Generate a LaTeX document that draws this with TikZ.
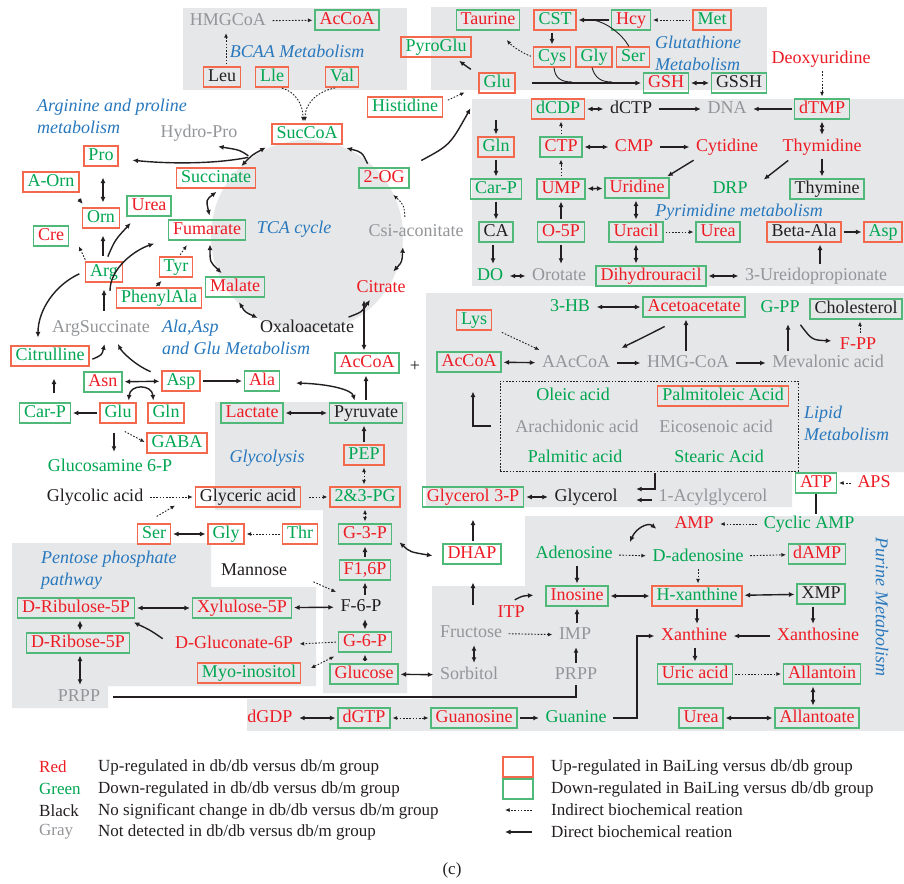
\documentclass[tikz,border=0pt]{standalone}
\usepackage{fontspec}
\setmainfont{Liberation Serif}
\usetikzlibrary{arrows.meta}
\definecolor{txtred}{RGB}{237,28,36}
\definecolor{txtgreen}{RGB}{0,166,81}
\definecolor{txtgray}{RGB}{147,149,152}
\definecolor{txtblack}{RGB}{35,31,32}
\definecolor{txtblue}{RGB}{40,120,190}
\definecolor{boxred}{RGB}{242,105,78}
\definecolor{boxgreen}{RGB}{80,184,120}
\definecolor{bggray}{RGB}{230,231,232}
\begin{document}
\begin{tikzpicture}[x=1pt,y=-1pt,
  lab/.style={font=\fontsize{18}{20}\selectfont, inner xsep=4.5pt, inner ysep=1.75pt, text height=12.5pt, text depth=4pt},
  bR/.style={draw=boxred, line width=1.1pt},
  bG/.style={draw=boxgreen, line width=1.1pt},
  tR/.style={lab, text=txtred},
  tG/.style={lab, text=txtgreen},
  tK/.style={lab, text=txtblack},
  tY/.style={lab, text=txtgray},
  ttl/.style={font=\fontsize{18}{22}\selectfont\itshape, text=txtblue, align=left, inner sep=0pt},
  leg/.style={font=\fontsize{17}{20}\selectfont, anchor=west, inner sep=0pt},
  da/.style={draw=txtblack, line width=1.4pt, -{Latex[length=5.5pt,width=5pt]}, shorten >=2pt, shorten <=2pt},
  db/.style={draw=txtblack, line width=1.4pt, {Latex[length=5.5pt,width=5pt]}-{Latex[length=5.5pt,width=5pt]}, shorten >=2pt, shorten <=2pt},
  ia/.style={draw=txtblack, line width=0.9pt, dash pattern=on 1.6pt off 1.6pt, -{Latex[length=4.5pt,width=4pt]}, shorten >=2pt, shorten <=2pt},
  ib/.style={ia, {Latex[length=4.5pt,width=4pt]}-{Latex[length=4.5pt,width=4pt]}},
  thinl/.style={draw=txtblack, line width=0.9pt}
]
\useasboundingbox (0,0) rectangle (904,883);
\fill[white] (0,0) rectangle (904,883);
% ---------------- background regions
\fill[bggray] (183,8) rectangle (407,90);
\fill[bggray] (431,7) rectangle (767,90);
\fill[bggray] (472,99) rectangle (904,286);
\fill[bggray] (426,293) -- (904,293) -- (904,472) -- (792,472) -- (792,507) -- (426,507) -- cycle;
\fill[bggray] (215,402) -- (407,402) -- (407,693) -- (323,693) -- (323,510) -- (215,510) -- cycle;
\fill[bggray] (12,543) -- (211,543) -- (211,587) -- (316,587) -- (316,686) -- (108,686) -- (108,708) -- (12,708) -- cycle;
\fill[bggray] (432,586) rectangle (525,731);
\fill[bggray] (247,699) rectangle (432,731);
\fill[bggray] (525,516) rectangle (904,731);
\fill[bggray] (307,236) circle[radius=96pt];

% ---------------- titles
\node[ttl] (tBCAA) at (297,51) {BCAA Metabolism};
\node[ttl, anchor=west] (tGlut) at (655,53) {Glutathione\\Metabolism};
\node[ttl] (tPyr) at (739,212) {Pyrimidine metabolism};
\node[ttl, anchor=west] (tArg) at (37,116) {Arginine and proline\\metabolism};
\node[ttl] (tTCA) at (294,229) {TCA cycle};
\node[ttl, anchor=west] (tAla) at (162,337) {Ala,Asp\\and Glu Metabolism};
\node[ttl] (tGlyc) at (267,458) {Glycolysis};
\node[ttl, anchor=west] (tPPP) at (41,570) {Pentose phosphate\\pathway};
\node[ttl, anchor=west] (tLip) at (804,423) {Lipid\\Metabolism};
\node[ttl, rotate=-90] (tPur) at (882,607) {Purine Metabolism};

% ---------------- BCAA
\node[tY] (HMGCoA) at (228,21) {HMGCoA};
\node[tR,bG] (AcCoAt) at (347,20) {AcCoA};
\node[tK,bR] (Leu) at (222,77) {Leu};
\node[tG,bR] (Lle) at (272,77) {Lle};
\node[tG,bR] (Val) at (342,77) {Val};

% ---------------- Glutathione
\node[tR,bG] (Taurine) at (488,20) {Taurine};
\node[tG,bR] (CST) at (555,20) {CST};
\node[tR,bG] (Hcy) at (631,20) {Hcy};
\node[tG,bR] (Met) at (712,20) {Met};
\node[tG,bR] (PyroGlu) at (436,47) {PyroGlu};
\node[tG,bR] (Cys) at (552,57) {Cys};
\node[tG,bR] (Glyg) at (594,57) {Gly};
\node[tG,bR] (Serg) at (633,57) {Ser};
\node[tG,bR] (Glug) at (497,83) {Glu};
\node[tR,bG] (GSH) at (666,83) {GSH};
\node[tK,bG] (GSSH) at (739,83) {GSSH};
\node[tR] (Deoxyuridine) at (821,59) {Deoxyuridine};

% ---------------- Pyrimidine
\node[tG,bR] (dCDP) at (558,109) {dCDP};
\node[tK] (dCTP) at (631,109) {dCTP};
\node[tY] (DNA) at (727,109) {DNA};
\node[tR,bG] (dTMP) at (822,109) {dTMP};
\node[tG,bR] (Gln2) at (496,147) {Gln};
\node[tR,bG] (CTP) at (561,147) {CTP};
\node[tR] (CMP) at (634,147) {CMP};
\node[tR] (Cytidine) at (727,147) {Cytidine};
\node[tR] (Thymidine) at (822,147) {Thymidine};
\node[tG,bG] (CarP2) at (496,189) {Car-P};
\node[tR,bG] (UMP) at (561,189) {UMP};
\node[tR,bG] (Uridine) at (637,188) {Uridine};
\node[tG] (DRP) at (730,189) {DRP};
\node[tK,bG] (Thymine) at (827,189) {Thymine};
\node[tK,bG] (CA) at (496,232) {CA};
\node[tR,bG] (O5P) at (561,232) {O-5P};
\node[tR,bG] (Uracil) at (636,232) {Uracil};
\node[tR,bG] (Urea2) at (718,232) {Urea};
\node[tK,bR] (BetaAla) at (804,232) {Beta-Ala};
\node[tG,bR] (Asp2) at (883,232) {Asp};
\node[tG] (DO) at (490,276) {DO};
\node[tY] (Orotate) at (559,276) {Orotate};
\node[tR,bG] (Dihydrouracil) at (651,276) {Dihydrouracil};
\node[tY] (Ureido) at (816,276) {3-Ureidopropionate};

% ---------------- TCA and amino acids
\node[tY] (HydroPro) at (199,133) {Hydro-Pro};
\node[tG,bR] (SucCoA) at (307,134) {SucCoA};
\node[tG,bR] (Pro) at (101,156) {Pro};
\node[tG,bR] (Succinate) at (216,178) {Succinate};
\node[tR,bG] (TwoOG) at (384,178) {2-OG};
\node[tG,bR] (AOrn) at (51,182) {A-Orn};
\node[tG,bR] (Histidine) at (405,107) {Histidine};
\node[tR,bG] (Urea1) at (149,206) {Urea};
\node[tG,bR] (Orn) at (101,218) {Orn};
\node[tR,bG] (Fumarate) at (207,230) {Fumarate};
\node[tY] (Csi) at (416,232) {Csi-aconitate};
\node[tR,bG] (Cre) at (51,236) {Cre};
\node[tG,bR] (Tyr) at (176,267) {Tyr};
\node[tG,bR] (Arg) at (104,272) {Arg};
\node[tR,bG] (Malate) at (235,287) {Malate};
\node[tR] (Citrate) at (381,288) {Citrate};
\node[tG,bR] (PhenylAla) at (159,298) {PhenylAla};
\node[tY] (ArgSucc) at (101,328) {ArgSuccinate};
\node[tK] (Oxalo) at (307,328) {Oxaloacetate};
\node[tG,bR] (Citrulline) at (50,356) {Citrulline};
\node[tR,bG] (AcCoAm) at (367,363) {AcCoA};
\node[tK] (plus) at (415,367) {+};
\node[tR,bG] (Asn) at (103,382) {Asn};
\node[tG,bR] (Asp) at (181,381) {Asp};
\node[tR,bG] (Ala) at (262,381) {Ala};
\node[tG,bR] (Glu1) at (118,413) {Glu};
\node[tG,bR] (Gln1) at (166,413) {Gln};
\node[tG,bG] (CarP1) at (45,413) {Car-P};
\node[tR,bG] (Lactate) at (252,413) {Lactate};
\node[tK,bG] (Pyruvate) at (366,413) {Pyruvate};
\node[tG,bR] (GABA) at (177,443) {GABA};
\node[tG,bR] (PEP) at (364,455) {PEP};
\node[tG] (Glucosamine) at (110,467) {Glucosamine 6-P};
\node[tK] (Glycolic) at (95,497) {Glycolic acid};
\node[tK,bR] (Glyceric) at (248,497) {Glyceric acid};
\node[tG,bR] (PG) at (365,497) {2\&3-PG};
\node[tR,bG] (Glycerol3P) at (473,497) {Glycerol 3-P};
\node[tK] (Glycerol) at (586,497) {Glycerol};
\node[tY] (Acyl) at (713,497) {1-Acylglycerol};
\node[tG,bR] (Ser1) at (154,534) {Ser};
\node[tG,bR] (Gly1) at (226,534) {Gly};
\node[tG,bR] (Thr) at (300,534) {Thr};
\node[tR,bG] (G3P) at (365,534) {G-3-P};
\node[tR,bG] (DHAP) at (472,554) {DHAP};
\node[tK] (Mannose) at (254,571) {Mannose};
\node[tR,bG] (F16P) at (365,570) {F1,6P};
\node[tR,bG] (Ribulose) at (76,608) {D-Ribulose-5P};
\node[tR,bG] (Xylulose) at (242,608) {Xylulose-5P};
\node[tK] (F6P) at (361,607) {F-6-P};
\node[tR,bG] (Ribose) at (78,643) {D-Ribose-5P};
\node[tR] (Gluconate) at (234,644) {D-Gluconate-6P};
\node[tR,bG] (G6P) at (365,642) {G-6-P};
\node[tG,bR] (Myo) at (249,673) {Myo-inositol};
\node[tR,bG] (Glucose) at (364,674) {Glucose};
\node[tY] (PRPP1) at (79,697) {PRPP};
\node[tR] (dGDP) at (270,718) {dGDP};
\node[tR,bG] (dGTP) at (364,718) {dGTP};
\node[tR,bG] (Guanosine) at (474,718) {Guanosine};
\node[tG] (Guanine) at (576,718) {Guanine};

% ---------------- Lipid
\node[tG] (HB) at (570,307) {3-HB};
\node[tR,bG] (Acetoacetate) at (694,307) {Acetoacetate};
\node[tG] (GPP) at (780,308) {G-PP};
\node[tK,bG] (Cholesterol) at (856,309) {Cholesterol};
\node[tG,bR] (Lys) at (474,320) {Lys};
\node[tR] (FPP) at (858,345) {F-PP};
\node[tR,bG] (AcCoAl) at (469,362) {AcCoA};
\node[tY] (AAcCoA) at (576,363) {AAcCoA};
\node[tY] (HMGCoA2) at (688,363) {HMG-CoA};
\node[tY] (Mevalonic) at (828,363) {Mevalonic acid};
\node[draw=txtblack, line width=0.9pt, dash pattern=on 1.6pt off 1.6pt, minimum width=298pt, minimum height=90pt, inner sep=0pt] (FA) at (649,426) {};
\node[tG] (Oleic) at (573,396) {Oleic acid};
\node[tG,bR] (Palmitoleic) at (723,396) {Palmitoleic Acid};
\node[tY] (Arachidonic) at (577,428) {Arachidonic acid};
\node[tY] (Eicosenoic) at (716,428) {Eicosenoic acid};
\node[tG] (Palmitic) at (575,458) {Palmitic acid};
\node[tG] (Stearic) at (719,458) {Stearic Acid};
\node[tR,bG] (ATP) at (816,483) {ATP};
\node[tR] (APS) at (874,483) {APS};

% ---------------- Purine
\node[tR] (AMP) at (694,524) {AMP};
\node[tG] (CyclicAMP) at (809,524) {Cyclic AMP};
\node[tG] (Adenosine) at (574,554) {Adenosine};
\node[tG] (Dadenosine) at (698,557) {D-adenosine};
\node[tR,bG] (dAMP) at (817,554) {dAMP};
\node[tR,bG] (Inosine) at (577,596) {Inosine};
\node[tG,bR] (Hxan) at (697,596) {H-xanthine};
\node[tK,bG] (XMP) at (821,594) {XMP};
\node[tR] (ITP) at (511,613) {ITP};
\node[tY] (Fructose) at (471,633) {Fructose};
\node[tY] (IMP) at (575,635) {IMP};
\node[tR] (Xanthine) at (694,636) {Xanthine};
\node[tR] (Xanthosine) at (818,636) {Xanthosine};
\node[tY] (Sorbitol) at (469,675) {Sorbitol};
\node[tY] (PRPP2) at (576,675) {PRPP};
\node[tR,bG] (UricAcid) at (695,674) {Uric acid};
\node[tR,bG] (Allantoin) at (822,674) {Allantoin};
\node[tR,bG] (Urea3) at (701,718) {Urea};
\node[tR,bG] (Allantoate) at (817,718) {Allantoate};

% ================= connectors
% BCAA
\draw[ia] (HMGCoA) -- (AcCoAt);
\draw[ia] ([shift={(4,0)}]Leu.north) -- ([shift={(4,0)}]Leu.north |- HMGCoA.south);
\draw[ia] ([shift={(8,0)}]Lle.south) .. controls (296,92) and (303,105) .. ([shift={(-4,0)}]SucCoA.north);
\draw[ia] ([shift={(-5,0)}]Val.south) .. controls (315,92) and (305,105) .. ([shift={(-2,0)}]SucCoA.north);
% Glutathione
\draw[ia] (Met) -- (Hcy);
\draw[da] (Hcy) -- (CST);
\draw[thinl] ([shift={(-4,0)}]Serg.north) .. controls (622,34) and (606,22) .. (593,20);
\draw[da] (Cys.north |- CST.south) -- (Cys.north);
\draw[ia] (Cys.west) .. controls (522,53) and (512,46) .. ([shift={(-15,8)}]Taurine.south east);
\draw[da] ([shift={(-6,-2)}]Glug.north west) .. controls (466,66) .. ([shift={(-14,2)}]PyroGlu.south east);
\draw[da] ([shift={(14,0)}]Glug.east) -- (GSH.west);
\draw[thinl] ([shift={(2,0)}]Cys.south) .. controls (555,78) and (561,82) .. (572,82);
\draw[thinl] ([shift={(-2,0)}]Glyg.south) .. controls (595,78) and (601,82) .. (612,82);
\draw[db] (GSH) -- (GSSH);
\draw[ia] (dTMP.north |- Deoxyuridine.south) -- (dTMP.north);
\draw[ia] ([shift={(3,-6)}]Histidine.east) -- ([shift={(-12,-2)}]Glug.south west);
\draw[da] ([shift={(10,-6)}]TwoOG.north east) .. controls (450,145) .. ([shift={(-7,13)}]Glug.south west);
% Pyrimidine
\draw[db] (dCDP) -- (dCTP);
\draw[da] (dCTP) -- (DNA);
\draw[da] (dTMP) -- (DNA);
\draw[db] (dTMP) -- (dTMP.south |- Thymidine.north);
\draw[da] (Thymidine.south) -- (Thymidine.south |- Thymine.north);
\draw[da] ([shift={(12,2)}]Thymidine.south west) -- ([shift={(10,2)}]DRP.north east);
\draw[db] (CTP) -- (CMP);
\draw[da] (CMP) -- (Cytidine);
\draw[da] ([shift={(4,2)}]Cytidine.south west) -- ([shift={(-4,0)}]Uridine.north east);
\draw[db] (UMP) -- (Uridine);
\draw[ia] (UMP) -- (CTP);
\draw[ia] (CTP.north) -- (CTP.north |- dCDP.south);
\draw[da] (O5P) -- (UMP);
\draw[da] (O5P.south) -- (O5P.south |- Orotate.north);
\draw[da] ([shift={(-1,24)}]Glug.south) -- (Gln2.north);
\draw[da] (Gln2) -- (CarP2);
\draw[da] (CarP2) -- (CA);
\draw[da] ([shift={(-3,0)}]CA.south) -- ([shift={(-3,0)}]CA.south |- DO.north);
\draw[db] (DO) -- (Orotate);
\draw[db] (Uridine.south -| Uracil) -- (Uracil.north);
\draw[ia] (Uracil) -- (Urea2);
\draw[da] (BetaAla) -- (Asp2);
\draw[db] (Uracil.south) -- (Uracil.south |- Dihydrouracil.north);
\draw[db] (Dihydrouracil) -- (Ureido);
\draw[da] ([shift={(4,0)}]Ureido.north) -- ([shift={(4,0)}]Ureido.north |- BetaAla.south);
% TCA cycle
\coordinate (J) at (250,157);
\draw[db] ([shift={(24,0)}]Succinate.north) .. controls (252,155) .. ([shift={(-4,2)}]SucCoA.south west);
\draw[da] (J) .. controls (215,164) and (170,164) .. ([shift={(12,4)}]Pro.east);
\draw[da] (J) .. controls (240,150) .. ([shift={(-26,3)}]HydroPro.south east);
\draw[da] ([shift={(10,-2)}]TwoOG.north west) .. controls (362,152) .. ([shift={(2,3)}]SucCoA.south east);
\draw[ia] ([shift={(-11,-3)}]Csi.north) .. controls (404,205) .. ([shift={(8,5)}]TwoOG.south);
\draw[db] ([shift={(11,-5)}]Citrate.north) .. controls (402,262) .. ([shift={(-13,3)}]Csi.south);
\draw[db] ([shift={(2,2)}]Succinate.south) .. controls (206,200) .. ([shift={(3,-2)}]Fumarate.north);
\draw[db] ([shift={(3,2)}]Fumarate.south) .. controls (210,262) .. ([shift={(-12,-2)}]Malate.north);
\draw[db] ([shift={(3,3)}]Malate.south) .. controls (245,312) .. ([shift={(4,1)}]Oxalo.north west);
\draw[da] ([shift={(-12,0)}]Oxalo.north east) .. controls (362,312) .. ([shift={(-10,0)}]Citrate.south);
\draw[db] ([shift={(-3,0)}]AcCoAm.north) -- ([shift={(-3,0)}]AcCoAm.north |- Citrate.south);
\draw[da] (Pyruvate.north) -- (Pyruvate.north |- AcCoAm.south);
\draw[db] ([shift={(14,2)}]Ala.east) .. controls (330,384) and (352,390) .. ([shift={(-11,0)}]Pyruvate.north);
\draw[da] (Asp) -- (Ala);
\draw[db] (Asn) -- (Asp);
\draw[db] (Lactate) -- (Pyruvate);
\draw[da] (PEP.north) -- (PEP.north |- Pyruvate.south);
\draw[ib] (PG.north -| PEP) -- (PEP.south);
\draw[ib] (G3P) -- (PG);
\draw[da] (F16P) -- (G3P);
\draw[da] (F6P.north -| F16P) -- (F16P.south);
\draw[db] (G6P.north) -- (G6P.north |- F6P.south);
\draw[da] (Glucose.north -| G6P) -- (G6P.south);
\draw[db] (Xylulose) -- (F6P);
\draw[db] (Ribulose) -- (Xylulose);
\draw[db] ([shift={(2,0)}]Ribose.north) -- ([shift={(2,0)}]Ribose.north |- Ribulose.south);
\draw[db] ([shift={(2,0)}]Ribose.south) -- ([shift={(2,0)}]Ribose.south |- PRPP1.north);
\draw[da] ([shift={(-6,6)}]Gluconate.north west) .. controls (150,630) .. ([shift={(-3,3)}]Ribulose.south east);
\draw[ia] (G6P.west) -- (Gluconate.east);
\draw[ib] ([shift={(-2,3)}]G6P.south west) -- ([shift={(8,-4)}]Myo.east);
\draw[ia] ([shift={(20,10)}]Mannose.east) -- ([shift={(2,-4)}]F6P.north west);
\draw[db] (Glucose) -- (Sorbitol);
\draw[db] ([shift={(3,0)}]Fructose.south) -- ([shift={(3,0)}]Fructose.south |- Sorbitol.north);
\draw[da] ([shift={(1,-16)}]DHAP.south |- Fructose.north) -- ([shift={(1,16)}]DHAP.south);
\draw[da] ([shift={(1,0)}]DHAP.north) -- ([shift={(1,10)}]DHAP.north |- Glycerol3P.south);
\draw[db] ([shift={(6,7)}]G3P.east) .. controls (410,552) .. ([shift={(-8,2)}]DHAP.west);
\draw[db] (Glycerol3P) -- (Glycerol);
\draw[da] ([shift={(0,3)}]Acyl.west) -- ([shift={(12,3)}]Glycerol.east);
\draw[da] ([shift={(6,0)}]FA.south) |- ([shift={(12,-8)}]Glycerol.east);
\draw[da] ([shift={(-7,0)}]FA.west) -| ([shift={(4,17)}]AcCoAl.south);
% Lipid
\draw[ia] ([shift={(8,1)}]Lys.south east) -- ([shift={(4,-2)}]AAcCoA.north west);
\draw[db] (AcCoAl) -- (AAcCoA);
\draw[da] (AAcCoA) -- (HMGCoA2);
\draw[da] (HMGCoA2) -- (Mevalonic);
\draw[da] ([shift={(-2,0)}]HMGCoA2.north) -- ([shift={(-2,0)}]HMGCoA2.north |- Acetoacetate.south);
\draw[da] ([shift={(24,8)}]Acetoacetate.south west) .. controls (642,338) .. ([shift={(5,-4)}]AAcCoA.north east);
\draw[db] (HB) -- (Acetoacetate);
\draw[da] ([shift={(8,0)}]GPP.south |- Mevalonic.north) -- ([shift={(8,4)}]GPP.south);
\draw[da] ([shift={(-5,5)}]GPP.south east) .. controls (812,340) .. ([shift={(-2,-4)}]FPP.west);
\draw[ia] ([shift={(2,0)}]FPP.north) -- ([shift={(2,0)}]FPP.north |- Cholesterol.south);
\draw[ia] (APS) -- (ATP);
\coordinate (ATPend) at (816,514);
\draw[line width=1.4pt, draw=txtblack] (ATP.south) -- (ATPend);
% Purine
\draw[ia] (CyclicAMP) -- (AMP);
\draw[db] ([shift={(-12,6)}]AMP.west) .. controls (648,522) and (636,528) .. ([shift={(12,0)}]Adenosine.north east);
\draw[ia] (Adenosine) -- (Dadenosine);
\draw[ia] (Dadenosine) -- (dAMP);
\draw[ia] (Dadenosine.south) -- (Dadenosine.south |- Hxan.north);
\draw[da] (Inosine.north |- Adenosine.south) -- (Inosine.north);
\draw[db] (Inosine) -- (Hxan);
\draw[db] (Hxan) -- (XMP);
\draw[da] (Inosine.south |- IMP.north) -- (Inosine.south);
\draw[da] (PRPP2.north) -- (PRPP2.north |- IMP.south);
\draw[ia] (Fructose) -- (IMP);
\draw[da] ([shift={(2,-2)}]ITP.north) .. controls (522,596) .. ([shift={(-10,-1)}]Inosine.west);
\draw[da] (Hxan.south) -- (Hxan.south |- Xanthine.north);
\draw[da] ([shift={(-8,0)}]XMP.south) -- ([shift={(-8,0)}]XMP.south |- Xanthosine.north);
\draw[da] (Xanthosine) -- (Xanthine);
\draw[da] (UricAcid.north |- Xanthine.south) -- (UricAcid.north);
\draw[ia] (UricAcid) -- (Allantoin);
\draw[db] ([shift={(-9,0)}]Allantoin.south) -- ([shift={(-9,0)}]Allantoin.south |- Allantoate.north);
\draw[db] (Urea3) -- (Allantoate);
\draw[da] (Guanine.east) -- ++(26,0) |- (Xanthine.west);
\draw[da] (Guanosine) -- (Guanine);
\draw[ib] (dGTP) -- (Guanosine);
\draw[db] (dGDP) -- (dGTP);
\draw[line width=1.2pt, draw=txtblack] (PRPP2.south) |- ([shift={(8,0)}]PRPP1.east);
% left amino acids
\draw[da] (Glu1) -- (CarP1);
\draw[da] ([shift={(9,-7)}]CarP1.north) -- ([shift={(9,10)}]CarP1.north |- Citrulline.south);
\draw[db] ([shift={(-8,0)}]Glu1.north east) .. controls (130,384) and (152,384) .. ([shift={(6,0)}]Gln1.north west);
\draw[ia] ([shift={(5,7)}]Glu1.south) -- (GABA.west);
\draw[da] ([shift={(-4,7)}]Glu1.south) -- ([shift={(-4,-3)}]Glu1.south |- Glucosamine.north);
\draw[da] ([shift={(-9,2)}]Asp.north west) .. controls (135,365) and (122,352) .. ([shift={(16,4)}]ArgSucc.south);
\draw[da] ([shift={(1,4)}]Citrulline.east) .. controls (102,355) .. ([shift={(4,4)}]ArgSucc.south);
\draw[da] ([shift={(0,-5)}]ArgSucc.north -| Arg.south) -- ([shift={(0,5)}]Arg.south);
\draw[da] ([shift={(-4,1)}]Arg.west) .. controls (55,285) and (38,310) .. ([shift={(-12,-6)}]Citrulline.north);
\draw[da] ([shift={(6,-25)}]ArgSucc.north -| Arg.south) .. controls (110,268) and (135,250) .. ([shift={(-12,13)}]Fumarate.west);
\draw[da] ([shift={(3,-3)}]Arg.north) .. controls (115,240) .. ([shift={(-17,5)}]Urea1.south);
\draw[da] ([shift={(-1,-3)}]Arg.north) -- ([shift={(-1,5)}]Arg.north |- Orn.south);
\draw[db] ([shift={(2,-3)}]Orn.north) -- ([shift={(2,9)}]Orn.north |- Pro.south);
\draw[da] ([shift={(-2,5)}]AOrn.south east) -- ([shift={(2,-2)}]Orn.north west);
\draw[ia] ([shift={(1,0)}]Arg.north west) -- ([shift={(9,-2)}]Cre.south east);
\draw[ia] ([shift={(3,0)}]Tyr.north) -- ([shift={(-19,3)}]Fumarate.south);
\draw[da] ([shift={(-4,0)}]PhenylAla.north) -- ([shift={(-13,2)}]Tyr.south);
\draw[ia] (Glycolic) -- (Glyceric);
\draw[ia] ([shift={(1,-6)}]Ser1.north) -- ([shift={(-18,-3)}]Glyceric.south west);
\draw[ia] ([shift={(6,0)}]Glyceric.east) -- (PG.west);
\draw[db] (Ser1) -- (Gly1);
\draw[ia] (Thr) -- (Gly1);

% ---------------- legend
\node[leg, text=txtred] (lRed) at (39,767) {Red};
\node[leg, text=txtgreen] (lGreen) at (39,789) {Green};
\node[leg, text=txtblack] (lBlack) at (39,811) {Black};
\node[leg, text=txtgray] (lGray) at (39,832) {Gray};
\node[leg, text=txtblack] (dRed) at (98,767) {Up-regulated in db/db versus db/m group};
\node[leg, text=txtblack] (dGreen) at (98,789) {Down-regulated in db/db versus db/m group};
\node[leg, text=txtblack] (dBlack) at (98,811) {No significant change in db/db versus db/m group};
\node[leg, text=txtblack] (dGray) at (98,832) {Not detected in db/db versus db/m group};
\node[draw=boxred, line width=1.1pt, minimum width=30pt, minimum height=20pt, inner sep=0pt] (kRed) at (518,767) {};
\node[draw=boxgreen, line width=1.1pt, minimum width=30pt, minimum height=20pt, inner sep=0pt] (kGreen) at (518,789) {};
\coordinate (kIa) at (532,810);
\coordinate (kIb) at (505,810);
\coordinate (kDa) at (532,832);
\coordinate (kDb) at (505,832);
\draw[ia, shorten >=0pt, shorten <=0pt] (kIa) -- (kIb);
\draw[da, shorten >=0pt, shorten <=0pt] (kDa) -- (kDb);
\node[leg, text=txtblack] (rRed) at (551,767) {Up-regulated in BaiLing versus db/db group};
\node[leg, text=txtblack] (rGreen) at (551,789) {Down-regulated in BaiLing versus db/db group};
\node[leg, text=txtblack] (rInd) at (551,810) {Indirect biochemical reation};
\node[leg, text=txtblack] (rDir) at (551,832) {Direct biochemical reation};
\node[leg, anchor=center, text=txtblack] (cap) at (452,870) {(c)};
\end{tikzpicture}
\end{document}
